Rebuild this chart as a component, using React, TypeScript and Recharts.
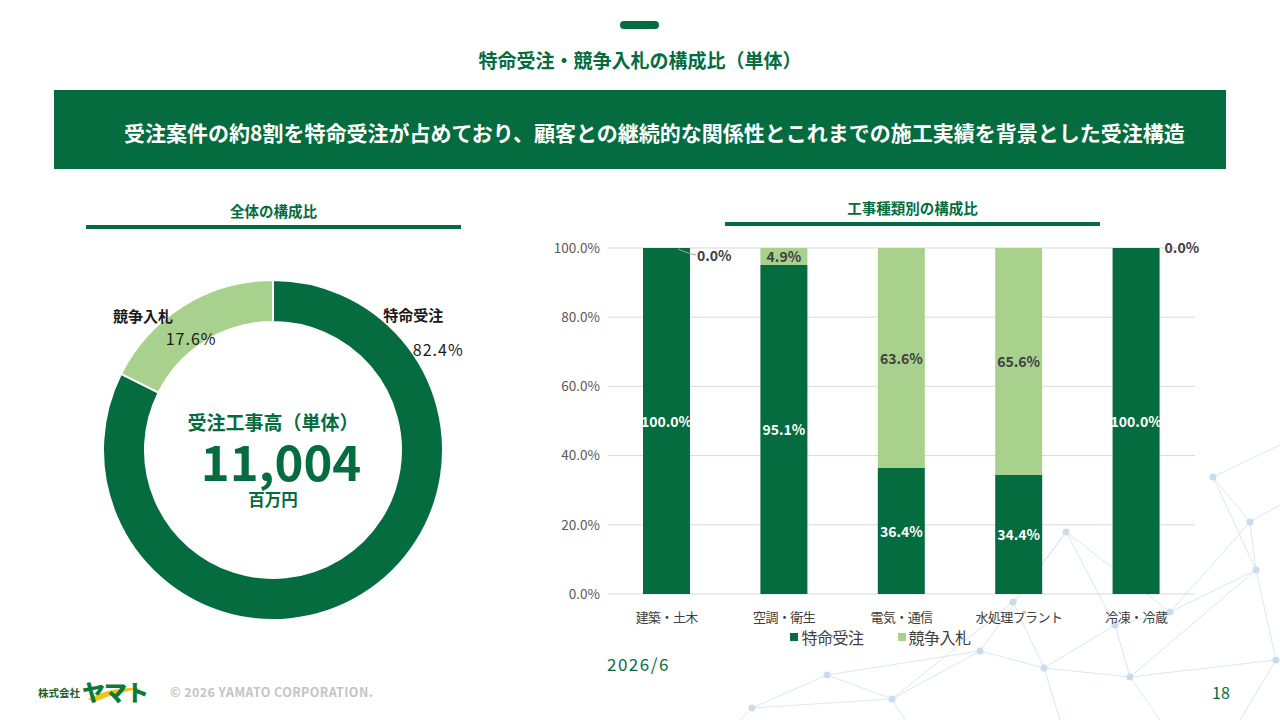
import React from "react";
import {
  BarChart,
  Bar,
  XAxis,
  YAxis,
  CartesianGrid,
  LabelList,
  Legend,
  PieChart,
  Pie,
  Cell,
} from "recharts";

const GREEN = "#046c3f";
const LIGHT = "#a9d18e";
const FONT = '"Noto Sans CJK JP", "Noto Sans", sans-serif';

// data
const categories = ["建築・土木", "空調・衛生", "電気・通信", "水処理プラント", "冷凍・冷蔵"];
const tokumei = [100.0, 95.1, 36.4, 34.4, 100.0];
const kyoso = [0.0, 4.9, 63.6, 65.6, 0.0];
const yTicks = [0, 20, 40, 60, 80, 100];
const seriesNames = ["特命受注", "競争入札"];
const shareValues = [82.4, 17.6];
const totalOrders = "11,004";

const barData = categories.map((name, i) => ({
  name,
  tokumei: tokumei[i],
  kyoso: kyoso[i],
}));
const pieData = seriesNames.map((name, i) => ({ name, value: shareValues[i] }));

// background decoration (network)
const nodes: [number, number][] = [
  [1213, 477], [1250, 522], [1256, 570], [1066, 532], [1013, 602], [1115, 625],
  [980, 651], [1044, 668], [1130, 677], [1276, 660], [827, 675], [892, 699],
  [752, 708], [1170, 612],
];
const edges: [number, number][] = [
  [0, 1], [0, 2], [1, 2], [1, 13], [3, 4], [3, 5], [3, 6], [3, 13], [2, 9], [2, 13],
  [2, 8], [6, 7], [6, 11], [6, 10], [7, 8], [7, 5], [5, 8], [8, 9], [10, 11], [10, 12],
  [4, 7], [13, 5], [4, 11], [12, 11],
];

const fmt = (v: number) => v.toFixed(1) + "%";

// label position per slice: polar angle of the name, radial gap, offset of the percent
const PIE_LABEL_POS = [
  { ang: 44, gap: 25, dx: 25, dy: 34 },
  { ang: 134, gap: 17, dx: 48, dy: 23 },
];

const renderPieLabel = (p: any) => {
  const { cx, cy, outerRadius, index, name, value } = p;
  const pos = PIE_LABEL_POS[index];
  const rad = (pos.ang * Math.PI) / 180;
  const r = outerRadius + pos.gap;
  const x = cx + r * Math.cos(rad);
  const y = cy - r * Math.sin(rad);
  return (
    <g>
      <text x={x} y={y} textAnchor="middle" dominantBaseline="central" fontSize={15} fontWeight={700} fill="#1a1a1a" fontFamily={FONT}>
        {name}
      </text>
      <text x={x + pos.dx} y={y + pos.dy} textAnchor="middle" dominantBaseline="central" fontSize={16} letterSpacing={1} fill="#1a1a1a" fontFamily={FONT}>
        {fmt(value)}
      </text>
    </g>
  );
};

const labelText = (x: number, y: number, v: number, fill: string, anchor = "middle") => (
  <text x={x} y={y} textAnchor={anchor} dominantBaseline="central" fontSize={14} fontWeight={700} fill={fill} fontFamily={FONT}>
    {fmt(v)}
  </text>
);

// dark segment label; also carries the 0.0% callout of an empty light segment on top
const darkLabel = (p: any) => {
  const { x, y, width, height, value, index } = p;
  const above = barData[index].kyoso;
  return (
    <g>
      {value ? labelText(x + width / 2, y + height / 2, value, "#ffffff") : null}
      {above === 0 && index === 0 ? (
        <g>
          <path d={`M${x + width - 12},${y + 1} Q${x + width},${y + 6} ${x + width + 6},${y + 7}`} stroke="#a6a6a6" fill="none" />
          {labelText(x + width + 7, y + 7, above, "#404040", "start")}
        </g>
      ) : null}
      {above === 0 && index !== 0 ? labelText(x + width + 5, y - 1, above, "#404040", "start") : null}
    </g>
  );
};

const lightLabel = (p: any) => {
  const { x, y, width, height, value } = p;
  if (!value) return null;
  return labelText(x + width / 2, y + height / 2, value, "#404040");
};

const XTick = (p: any) => {
  const { x, y, payload } = p;
  return (
    <text x={x} y={y + 8} textAnchor="middle" dominantBaseline="hanging" fontSize={13} letterSpacing={-0.6} fill="#404040" fontFamily={FONT}>
      {payload.value}
    </text>
  );
};

const LegendContent = () => (
  <div style={{ display: "flex", justifyContent: "center", alignItems: "center", height: 24, gap: 34, paddingLeft: 18, fontFamily: FONT, fontSize: 16, color: "#404040", letterSpacing: -0.5 }}>
    {seriesNames.map((n, i) => (
      <span key={n} style={{ display: "flex", alignItems: "center" }}>
        <span style={{ width: 8, height: 8, background: i ? LIGHT : GREEN, marginRight: 3, display: "inline-block" }} />
        {n}
      </span>
    ))}
  </div>
);

const abs = (s: React.CSSProperties): React.CSSProperties => ({ position: "absolute", ...s });

export default function App() {
  return (
    <div style={abs({ left: 0, top: 0, width: 1280, height: 720, background: "#fff", overflow: "hidden", fontFamily: FONT })}>
      <svg width={1280} height={720} style={abs({ left: 0, top: 0 })}>
        {edges.map(([a, b], i) => (
          <line key={i} x1={nodes[a][0]} y1={nodes[a][1]} x2={nodes[b][0]} y2={nodes[b][1]} stroke="#dbe7f1" strokeWidth={1} />
        ))}
        <line x1={1213} y1={477} x2={1280} y2={445} stroke="#dbe7f1" />
        <line x1={1250} y1={522} x2={1280} y2={505} stroke="#dbe7f1" />
        <line x1={752} y1={708} x2={740} y2={720} stroke="#dbe7f1" />
        <line x1={892} y1={699} x2={905} y2={720} stroke="#dbe7f1" />
        <line x1={1044} y1={668} x2={1060} y2={720} stroke="#dbe7f1" />
        <line x1={1130} y1={677} x2={1160} y2={720} stroke="#dbe7f1" />
        <line x1={1276} y1={660} x2={1240} y2={720} stroke="#dbe7f1" />
        {nodes.map(([x, y], i) => (
          <circle key={i} cx={x} cy={y} r={3.5} fill="#cadcec" />
        ))}
      </svg>

      <div style={abs({ left: 620, top: 21, width: 39, height: 8, borderRadius: 4, background: GREEN })} />
      <div style={abs({ left: 0, top: 47, width: 1280, textAlign: "center", fontSize: 19, fontWeight: 700, color: GREEN, lineHeight: "26px" })}>
        特命受注・競争入札の構成比（単体）
      </div>
      <div style={abs({ left: 54, top: 90, width: 1172, height: 79, background: GREEN })} />
      <div style={abs({ left: 124, top: 117, fontSize: 21, fontWeight: 700, color: "#fff", lineHeight: "30px", whiteSpace: "nowrap" })}>
        受注案件の約8割を特命受注が占めており、顧客との継続的な関係性とこれまでの施工実績を背景とした受注構造
      </div>

      <div style={abs({ left: 86, top: 200, width: 375, textAlign: "center", fontSize: 14.5, fontWeight: 700, color: GREEN, lineHeight: "22px" })}>
        全体の構成比
      </div>
      <div style={abs({ left: 86, top: 225, width: 375, height: 4, background: GREEN })} />
      <div style={abs({ left: 725, top: 197, width: 375, textAlign: "center", fontSize: 14.5, fontWeight: 700, color: GREEN, lineHeight: "22px" })}>
        工事種類別の構成比
      </div>
      <div style={abs({ left: 725, top: 222, width: 375, height: 4, background: GREEN })} />

      <div style={abs({ left: 53, top: 250 })}>
        <PieChart width={440} height={400} margin={{ top: 0, right: 0, bottom: 0, left: 0 }}>
          <Pie
            data={pieData}
            dataKey="value"
            nameKey="name"
            cx={220}
            cy={200}
            innerRadius={128}
            outerRadius={170}
            startAngle={90}
            endAngle={-270}
            stroke="#ffffff"
            strokeWidth={2}
            label={renderPieLabel}
            labelLine={false}
            isAnimationActive={false}
          >
            {pieData.map((d, i) => (
              <Cell key={d.name} fill={i ? LIGHT : GREEN} />
            ))}
          </Pie>
        </PieChart>
      </div>
      <div style={abs({ left: 123, top: 410, width: 300, textAlign: "center", color: GREEN, fontWeight: 700, fontSize: 19, lineHeight: "24px" })}>
        受注工事高（単体）
      </div>
      <div style={abs({ left: 131, top: 440, width: 300, textAlign: "center", color: GREEN, fontWeight: 700, fontSize: 49, lineHeight: "40px" })}>
        {totalOrders}
      </div>
      <div style={abs({ left: 123, top: 490, width: 300, textAlign: "center", color: GREEN, fontWeight: 700, fontSize: 16.5, lineHeight: "18px" })}>
        百万円
      </div>

      <div style={abs({ left: 540, top: 230 })}>
        <BarChart width={680} height={430} data={barData} margin={{ top: 18, right: 25, left: 8, bottom: 11 }} barSize={47}>
          <CartesianGrid vertical={false} stroke="#d9d9d9" />
          <XAxis dataKey="name" axisLine={false} tickLine={false} height={31} tick={<XTick />} interval={0} />
          <YAxis
            width={60}
            domain={[0, 100]}
            ticks={yTicks}
            tickFormatter={fmt}
            axisLine={false}
            tickLine={false}
            tick={{ fill: "#595959", fontSize: 13.5, fontFamily: FONT }}
          />
          <Legend verticalAlign="bottom" height={24} content={<LegendContent />} />
          <Bar dataKey="tokumei" name={seriesNames[0]} stackId="a" fill={GREEN} isAnimationActive={false}>
            <LabelList dataKey="tokumei" content={darkLabel} />
          </Bar>
          <Bar dataKey="kyoso" name={seriesNames[1]} stackId="a" fill={LIGHT} isAnimationActive={false}>
            <LabelList dataKey="kyoso" content={lightLabel} />
          </Bar>
        </BarChart>
      </div>

      <div style={abs({ left: 607, top: 652, fontSize: 17, letterSpacing: 1.5, color: GREEN, lineHeight: "24px" })}>2026/6</div>

      <div style={abs({ left: 38, top: 686, fontSize: 10.5, color: "#1f5f2e", lineHeight: "14px", fontWeight: 700 })}>株式会社</div>
      <svg width={80} height={30} style={abs({ left: 80, top: 677 })}>
        <path d="M8,22 Q35,8 62,12 Q40,14 14,25 Z" fill="#f2c318" />
      </svg>
      <div style={abs({ left: 82, top: 676, fontSize: 23, fontWeight: 900, color: "#0b7a38", lineHeight: "30px", letterSpacing: -1 })}>ヤマト</div>
      <div style={abs({ left: 170, top: 684, fontSize: 12.5, fontWeight: 700, color: "#c4c4c4", lineHeight: "16px", letterSpacing: 0.4 })}>
        © 2026 YAMATO CORPORATION.
      </div>
      <div style={abs({ left: 1212, top: 680, fontSize: 16, color: GREEN, lineHeight: "24px" })}>18</div>
    </div>
  );
}
